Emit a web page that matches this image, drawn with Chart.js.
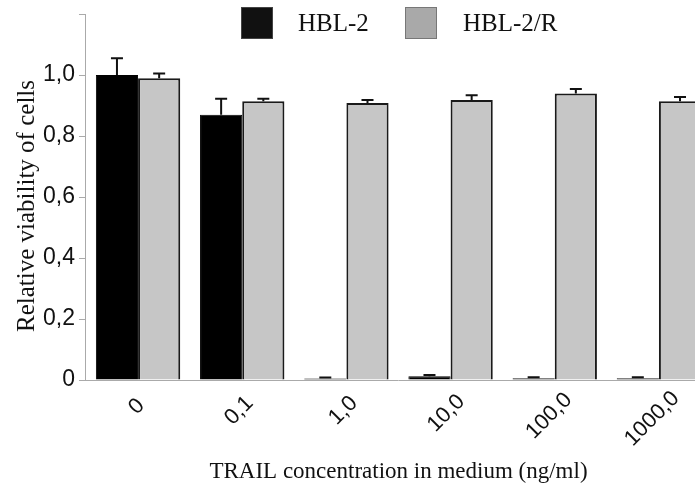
<!DOCTYPE html>
<html>
<head>
<meta charset="utf-8">
<script src="https://cdn.jsdelivr.net/npm/chart.js@4.4.1/dist/chart.umd.min.js"></script>
<style>
  html, body { margin: 0; padding: 0; background: #fff; overflow: hidden; }
  #wrap { position: relative; width: 712px; height: 488px; }
  .lg-box { position: absolute; top: 7px; width: 30px; height: 30px; }
  .lg-text { position: absolute; top: 8px; font: 25px "Liberation Serif", serif; color: #111; line-height: 30px; }
</style>
</head>
<body>
<div id="wrap">
  <canvas id="chart"></canvas>
  <div class="lg-box" style="left:241px;background:#111;border:1px solid #444"></div>
  <div class="lg-text" style="left:298px">HBL-2</div>
  <div class="lg-box" style="left:405px;background:#a9a9a9;border:1px solid #777"></div>
  <div class="lg-text" style="left:463px">HBL-2/R</div>
</div>
<script>
const categories = ["0", "0,1", "1,0", "10,0", "100,0", "1000,0"];
const hbl2 = [1.0, 0.87, 0.005, 0.012, 0.006, 0.006];
const hbl2Err = [0.055, 0.052, 0.003, 0.004, 0.003, 0.003];
const hbl2r = [0.989, 0.914, 0.908, 0.918, 0.939, 0.914];
const hbl2rErr = [0.016, 0.008, 0.01, 0.016, 0.015, 0.014];
const yTickLabels = ["0", "0,2", "0,4", "0,6", "0,8", "1,0", ""];
const xTitle = "TRAIL concentration in medium (ng/ml)";
const yTitle = "Relative viability of cells";

const errors = [hbl2Err, hbl2rErr];

const errorBars = {
  id: "errorBars",
  afterDatasetsDraw(chart) {
    const ctx = chart.ctx;
    const y = chart.scales.y;
    ctx.save();
    ctx.strokeStyle = "#111";
    ctx.lineWidth = 2;
    chart.data.datasets.forEach((ds, i) => {
      chart.getDatasetMeta(i).data.forEach((bar, j) => {
        const top = y.getPixelForValue(ds.data[j] + errors[i][j]);
        ctx.beginPath();
        ctx.moveTo(bar.x, bar.y);
        ctx.lineTo(bar.x, top);
        ctx.moveTo(bar.x - 6, top);
        ctx.lineTo(bar.x + 6, top);
        ctx.stroke();
      });
    });
    ctx.restore();
  },
};

// rotated category labels centred under each group, plus both axis titles
const axisText = {
  id: "axisText",
  afterDraw(chart) {
    const ctx = chart.ctx;
    const x = chart.scales.x;
    const y = chart.scales.y;
    const area = chart.chartArea;
    ctx.save();
    ctx.font = '22px "Liberation Sans"';
    ctx.fillStyle = "#111";
    ctx.textAlign = "center";
    ctx.textBaseline = "middle";
    categories.forEach((c, i) => {
      const w = ctx.measureText(c).width;
      ctx.save();
      ctx.translate(x.getPixelForTick(i) - 0.1 * w, x.top + 24 + 0.22 * w);
      ctx.rotate(-Math.PI / 4);
      ctx.fillText(c, 0, 0);
      ctx.restore();
    });
    ctx.font = '23px "Liberation Serif"';
    ctx.fillText(xTitle, (area.left + area.right) / 2, x.top + 92);
    ctx.font = '25px "Liberation Serif"';
    ctx.translate(27, (y.top + y.bottom) / 2 + 9);
    ctx.rotate(-Math.PI / 2);
    ctx.fillText(yTitle, 0, 0);
    ctx.restore();
  },
};

new Chart(document.getElementById("chart"), {
  type: "bar",
  data: {
    labels: categories,
    datasets: [
      {
        label: "HBL-2",
        data: hbl2,
        backgroundColor: "#000",
        borderColor: "#000",
        borderWidth: 1,
      },
      {
        label: "HBL-2/R",
        data: hbl2r,
        backgroundColor: "#c6c6c6",
        borderColor: "#1a1a1a",
        borderWidth: 2,
      },
    ],
  },
  options: {
    responsive: true,
    maintainAspectRatio: false,
    animation: false,
    layout: { padding: { left: 39, top: 14, right: 1, bottom: 2 } },
    datasets: { bar: { barPercentage: 1, categoryPercentage: 0.81 } },
    plugins: {
      legend: { display: false },
      tooltip: { enabled: false },
    },
    scales: {
      x: {
        afterFit: (s) => { s.height = 106; },
        grid: { display: false, drawTicks: false, tickLength: 0 },
        border: { color: "#aaa", width: 1 },
        ticks: { display: false },
      },
      y: {
        min: 0,
        max: 1.2,
        grid: { drawOnChartArea: false, drawTicks: true, tickLength: 7, color: "#aaa" },
        border: { color: "#aaa", width: 1 },
        ticks: {
          stepSize: 0.2,
          color: "#111",
          font: { family: "Liberation Sans", size: 23, lineHeight: 0.8 },
          padding: 4,
          callback: (v, i) => yTickLabels[i],
        },
      },
    },
  },
  plugins: [errorBars, axisText],
});
</script>
</body>
</html>
